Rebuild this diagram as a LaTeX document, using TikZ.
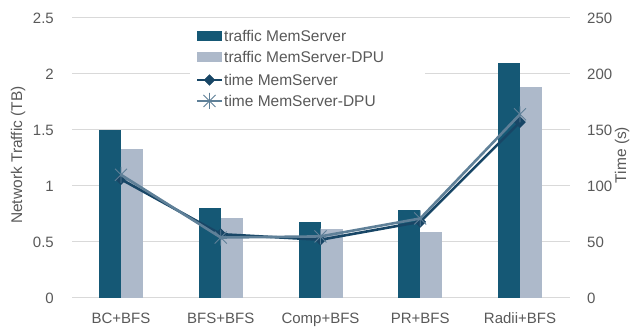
\documentclass[tikz,border=0pt]{standalone}
\usepackage{fontspec}
\setmainfont{Liberation Sans}
\usetikzlibrary{shapes.geometric}
\definecolor{barA}{RGB}{21,88,117}
\definecolor{barB}{RGB}{173,185,202}
\definecolor{lineA}{RGB}{24,70,102}
\definecolor{lineB}{RGB}{95,128,152}
\definecolor{txt}{RGB}{89,89,89}
\definecolor{gridc}{RGB}{217,217,217}
\tikzset{
  gridline/.style={draw=gridc, line width=1pt},
  ticklab/.style={text=txt, font=\fontsize{15}{18}\selectfont, inner sep=0pt},
  catlab/.style={text=txt, font=\fontsize{15}{18}\selectfont, inner sep=0pt},
  titlelab/.style={text=txt, font=\fontsize{15.5}{18}\selectfont, inner sep=0pt},
  legtext/.style={text=txt, font=\fontsize{15.5}{18}\selectfont, inner sep=0pt, anchor=west},
  barone/.style={fill=barA},
  bartwo/.style={fill=barB},
  serone/.style={draw=lineA, line width=2.6pt, line join=round},
  sertwo/.style={draw=lineB, line width=2.6pt, line join=round},
  diam/.style={shape=diamond, fill=lineA, draw=lineA, inner sep=0pt, minimum width=11pt, minimum height=11pt},
  starmk/.pic={\draw[lineB, line width=0.9pt] (-6,-6) -- (6,6) (-6,6) -- (6,-6) (0,-8) -- (0,8);}
}
\begin{document}
\begin{tikzpicture}[x=1pt,y=-1pt]
\useasboundingbox (0,0) rectangle (632,328);
% gridlines and tick labels
\foreach \v/\l/\r [count=\i] in {0/0/0,0.5/0.5/50,1/1/100,1.5/1.5/150,2/2/200,2.5/2.5/250}{
  \draw[gridline] (72,{298-112*\v}) -- (570,{298-112*\v});
  \node[ticklab, anchor=east] (tl\i) at (54,{298-112*\v}) {\l};
  \node[ticklab, anchor=west] (tr\i) at (587,{298-112*\v}) {\r};
}
% axis titles
\node[titlelab, rotate=90] (ytitle) at (18,155) {Network Traffic (TB)};
\node[titlelab, rotate=90] (y2title) at (622,155) {Time (s)};
% legend background
\fill[white] (190,24) rectangle (425,113);
% bars and categories
\foreach \c/\a/\b/\lab [count=\i] in {121/1.50/1.33/BC+BFS, 220.75/0.80/0.71/BFS+BFS, 320.5/0.68/0.62/Comp+BFS, 420.25/0.79/0.59/PR+BFS, 520/2.10/1.88/Radii+BFS}{
  \fill[barone] (\c-22,298) rectangle (\c,{298-112*\a});
  \fill[bartwo] (\c,298) rectangle (\c+22,{298-112*\b});
  \node[catlab, anchor=base] (cat\i) at (\c,323.5) {\lab};
}
% time series coordinates
\coordinate (a1) at (121,{298-1.12*106});
\coordinate (a2) at (220.75,{298-1.12*57});
\coordinate (a3) at (320.5,{298-1.12*52});
\coordinate (a4) at (420.25,{298-1.12*68});
\coordinate (a5) at (520,{298-1.12*157});
\coordinate (b1) at (121,{298-1.12*110});
\coordinate (b2) at (220.75,{298-1.12*54});
\coordinate (b3) at (320.5,{298-1.12*55});
\coordinate (b4) at (420.25,{298-1.12*71});
\coordinate (b5) at (520,{298-1.12*164});
\draw[serone] (a1) -- (a2) -- (a3) -- (a4) -- (a5);
\foreach \p in {a1,a2,a3,a4,a5}{\node[diam] at (\p) {};}
\draw[sertwo] (b1) -- (b2) -- (b3) -- (b4) -- (b5);
\foreach \p in {b1,b2,b3,b4,b5}{\pic at (\p) {starmk};}
% legend
\fill[barone] (197,31) rectangle (222,41);
\node[legtext] (l1) at (224,36) {traffic MemServer};
\fill[bartwo] (197,52) rectangle (222,62);
\node[legtext] (l2) at (224,57) {traffic MemServer-DPU};
\coordinate (la) at (197,80); \coordinate (lb) at (222,80);
\draw[serone] (la) -- (lb);
\node[diam] (ld) at (209.5,80) {};
\node[legtext] (l3) at (224,80) {time MemServer};
\coordinate (lc) at (197,101); \coordinate (le) at (222,101);
\draw[sertwo] (lc) -- (le);
\pic at (209.5,101) {starmk};
\node[legtext] (l4) at (224,101) {time MemServer-DPU};
\end{tikzpicture}
\end{document}
